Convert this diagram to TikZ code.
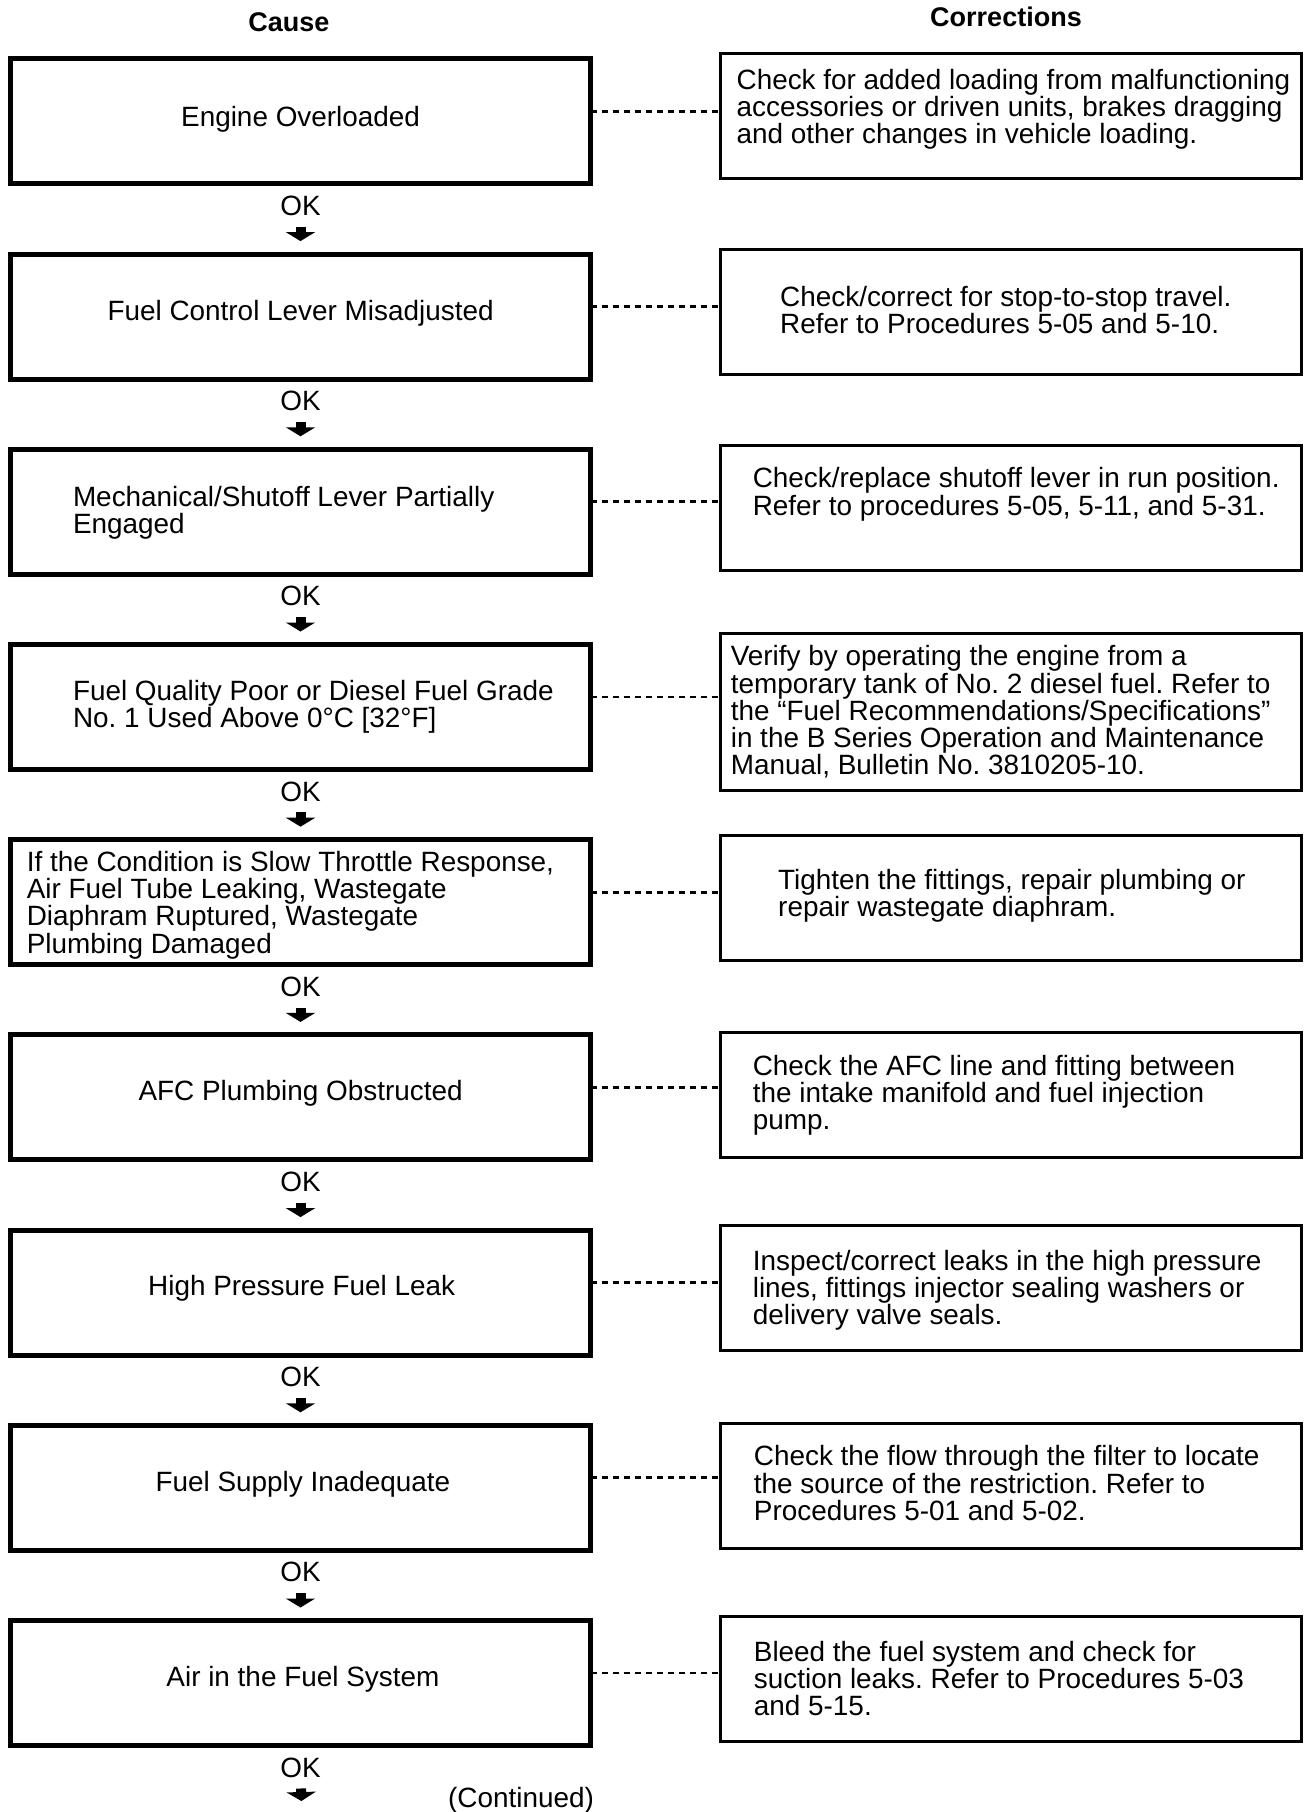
\documentclass[tikz,border=0pt]{standalone}
\usepackage{fontspec}
\setmainfont{Liberation Sans}
\usetikzlibrary{arrows.meta}
\frenchspacing

\begin{document}
\begin{tikzpicture}[x=1pt,y=-1pt,
  cause/.style={draw,line width=5pt,minimum width=580pt,minimum height=125pt,inner sep=0pt,outer sep=0pt},
  fix/.style={draw,line width=3pt,minimum width=581pt,minimum height=125pt,inner sep=0pt,outer sep=0pt},
  txt/.style={inner sep=0pt,align=left,font=\fontsize{27.9}{27.2}\selectfont},
  head/.style={inner sep=0pt,font=\fontsize{27}{27}\selectfont\bfseries},
  link/.style={line width=2.8pt,dash pattern=on 6pt off 5pt},
  okarrow/.style={line width=10pt,-{Triangle[width=29pt,length=9pt]},shorten <=11pt,shorten >=13pt}]
\useasboundingbox (0,0) rectangle (1304,1812);

\node[head,anchor=north] (hcause) at (289,12) {Cause};
\node[head,anchor=north] (hfix) at (1006,7) {Corrections};

% causes
\node[cause] (c1) at (300.5,121.4) {};
\node[cause] (c2) at (300.5,316.6) {};
\node[cause] (c3) at (300.5,511.8) {};
\node[cause] (c4) at (300.5,707) {};
\node[cause] (c5) at (300.5,902.2) {};
\node[cause] (c6) at (300.5,1097.4) {};
\node[cause] (c7) at (300.5,1292.6) {};
\node[cause] (c8) at (300.5,1487.8) {};
\node[cause] (c9) at (300.5,1683) {};

\node[txt,anchor=north] (ct1) at (300.6,105.6) {Engine Overloaded};
\node[txt,anchor=north] (ct2) at (300.6,299.8) {Fuel Control Lever Misadjusted};
\node[txt,anchor=north west] (ct3) at (72.8,486) {Mechanical/Shutoff Lever Partially\\Engaged};
\node[txt,anchor=north west] (ct4) at (72.8,680) {Fuel Quality Poor or Diesel Fuel Grade\\No. 1 Used Above 0°C [32°F]};
\node[txt,anchor=north west] (ct5) at (26.6,851) {If the Condition is Slow Throttle Response,\\Air Fuel Tube Leaking, Wastegate\\Diaphram Ruptured, Wastegate\\Plumbing Damaged};
\node[txt,anchor=north] (ct6) at (300.6,1080) {AFC Plumbing Obstructed};
\node[txt,anchor=north] (ct7) at (301.7,1275.5) {High Pressure Fuel Leak};
\node[txt,anchor=north] (ct8) at (302.9,1470.8) {Fuel Supply Inadequate};
\node[txt,anchor=north] (ct9) at (302.9,1666) {Air in the Fuel System};

% corrections
\node[fix] (f1) at (1011,116) {};
\node[fix] (f2) at (1011,312) {};
\node[fix] (f3) at (1011,507.5) {};
\node[fix,minimum height=157pt] (f4) at (1011,712) {};
\node[fix] (f5) at (1011,897.6) {};
\node[fix] (f6) at (1011,1094.7) {};
\node[fix] (f7) at (1011,1288) {};
\node[fix] (f8) at (1011,1485.5) {};
\node[fix] (f9) at (1011,1678.5) {};

\node[txt,anchor=north west] (ft1) at (736.4,68.6) {Check for added loading from malfunctioning\\accessories or driven units, brakes dragging\\and other changes in vehicle loading.};
\node[txt,anchor=north west] (ft2) at (780,286) {Check/correct for stop-to-stop travel.\\Refer to Procedures 5-05 and 5-10.};
\node[txt,anchor=north west] (ft3) at (752.6,467.4) {Check/replace shutoff lever in run position.\\Refer to procedures 5-05, 5-11, and 5-31.};
\node[txt,anchor=north west] (ft4) at (730.6,645.5) {Verify by operating the engine from a\\temporary tank of No. 2 diesel fuel. Refer to\\the ``Fuel Recommendations/Specifications''\\in the B Series Operation and Maintenance\\Manual, Bulletin No. 3810205-10.};
\node[txt,anchor=north west] (ft5) at (778,868.6) {Tighten the fittings, repair plumbing or\\repair wastegate diaphram.};
\node[txt,anchor=north west] (ft6) at (752.6,1054.7) {Check the AFC line and fitting between\\the intake manifold and fuel injection\\pump.};
\node[txt,anchor=north west] (ft7) at (752.6,1250) {Inspect/correct leaks in the high pressure\\lines, fittings injector sealing washers or\\delivery valve seals.};
\node[txt,anchor=north west] (ft8) at (753.7,1445.4) {Check the flow through the filter to locate\\the source of the restriction. Refer to\\Procedures 5-01 and 5-02.};
\node[txt,anchor=north west] (ft9) at (753.7,1640.8) {Bleed the fuel system and check for\\suction leaks. Refer to Procedures 5-03\\and 5-15.};

\foreach \i in {1,...,9}{
  \coordinate (d\i) at ([yshift=10pt]c\i.east);
  \draw[link] (d\i) -- (d\i -| f\i.west);
  \node[txt] (ok\i) at ([yshift=-84.4pt]c\i.center) {OK};
}
\foreach \i/\j in {1/2,2/3,3/4,4/5,5/6,6/7,7/8,8/9}
  \draw[okarrow] (ok\i) -- (c\j);
\coordinate (tail) at (301.7,1812);
\draw[okarrow,shorten >=11pt] (ok9) -- (tail);

\node[txt] (cont) at (521,1800) {(Continued)};
\end{tikzpicture}
\end{document}
